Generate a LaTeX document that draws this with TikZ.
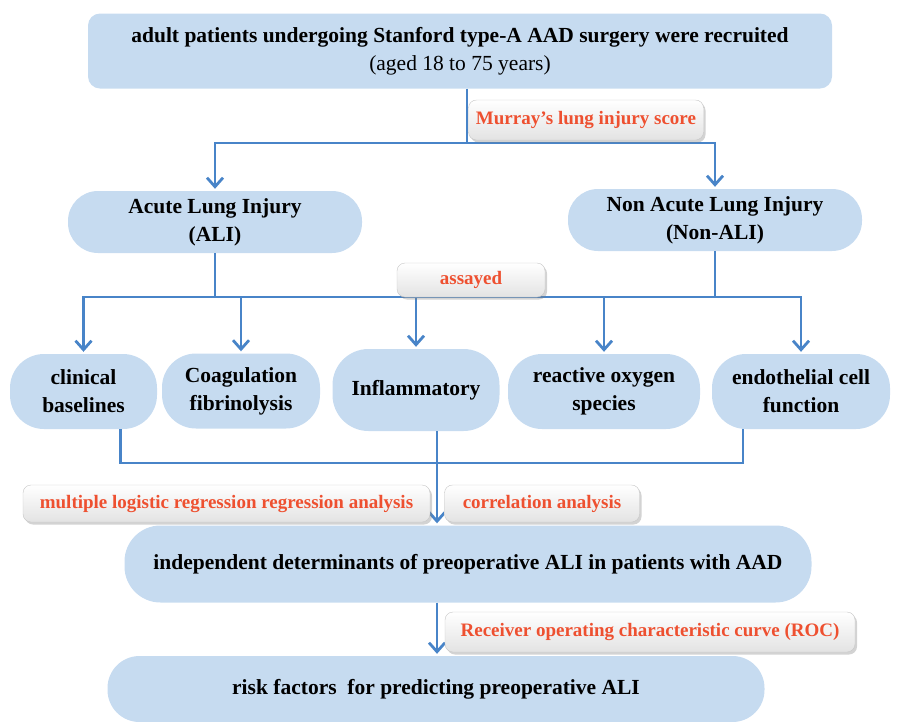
\documentclass[tikz,border=0pt]{standalone}
\usepackage{fontspec}
\setmainfont{Liberation Serif}
\usetikzlibrary{arrows.meta, positioning, shadows}
\usepackage{xcolor}
\definecolor{boxblue}{RGB}{198,219,240}
\definecolor{linkblue}{RGB}{72,132,200}
\definecolor{tagred}{RGB}{238,80,48}

\begin{document}
\begin{tikzpicture}[
  x=1pt, y=-1pt,
  box/.style={fill=boxblue, rounded corners=30pt, align=center, inner sep=0pt,
              font=\bfseries\fontsize{21.5}{28}\selectfont},
  tag/.style={draw=gray!45, rounded corners=8pt, top color=white, bottom color=gray!22,
              drop shadow={shadow xshift=2pt, shadow yshift=-2.5pt, opacity=0.35},
              text=tagred, inner sep=0pt, font=\bfseries\fontsize{19}{22}\selectfont},
  link/.style={draw=linkblue, line width=2.8pt},
  arr/.style={link, shorten >=2pt, -{Straight Barb[length=9pt, width=16pt]}}
]
\useasboundingbox (0,0) rectangle (897,721);

\node[box, rounded corners=12pt, minimum width=744pt, minimum height=75pt] (top) at (460,51)
  {adult patients undergoing Stanford type-A AAD surgery were recruited \\
   \mdseries (aged 18 to 75 years)};

\node[box, minimum width=294pt, minimum height=62pt] (ali) at (215,222)
  {Acute Lung Injury \\ (ALI)};
\node[box, minimum width=294pt, minimum height=62pt] (nonali) at (715,220)
  {Non Acute Lung Injury \\ (Non-ALI)};

\node[box, rounded corners=34pt, minimum width=147pt, minimum height=75pt] (clin) at (83.5,391.5)
  {clinical \\ baselines};
\node[box, rounded corners=34pt, minimum width=158pt, minimum height=75pt] (coag) at (241,391)
  {Coagulation \\ fibrinolysis};
\node[box, rounded corners=36pt, minimum width=167pt, minimum height=82pt] (inflam) at (416,390)
  {Inflammatory};
\node[box, rounded corners=34pt, minimum width=192pt, minimum height=75pt] (react) at (604,391.5)
  {reactive oxygen \\ species};
\node[box, rounded corners=34pt, minimum width=178pt, minimum height=75pt] (endo) at (801,391.5)
  {endothelial cell \\ function};

\node[box, rounded corners=36pt, minimum width=687pt, minimum height=77pt] (indep) at (468,564)
  {independent determinants of preoperative ALI in patients with AAD};
\node[box, rounded corners=32pt, minimum width=657pt, minimum height=66pt] (risk) at (436,689)
  {risk factors\ \ for predicting preoperative ALI};

\coordinate (split) at (467,143);
\coordinate (bus) at (471,297);
\coordinate (join) at (437,463);

\draw[link] (top.south -| split) -- (split);
\draw[arr] (split) -| (ali);
\draw[arr] (split) -| (nonali);
\draw[link] (ali) -- (ali |- bus);
\draw[link] (nonali) -- (nonali |- bus);
\foreach \n in {clin, coag, inflam, react, endo}
  \draw[arr] (bus) -| (\n);
\draw[link] ([xshift=37pt]clin.south) |- (join) -| ([xshift=-58pt]endo.south);
\draw[arr] (inflam.south -| join) -- (indep.north -| join);
\draw[arr] (indep.south -| join) -- (risk.north -| join);

\node[tag, minimum width=235pt, minimum height=40pt] (murray) at (586,120)
  {Murray's lung injury score};
\node[tag, minimum width=148pt, minimum height=34pt] (assayed) at (471,280)
  {assayed};
\node[tag, minimum width=407pt, minimum height=37pt] (logit) at (226.5,503.5)
  {multiple logistic regression regression analysis};
\node[tag, minimum width=195pt, minimum height=37pt] (corr) at (542,503.5)
  {correlation analysis};
\node[tag, minimum width=410pt, minimum height=40pt] (roc) at (650,632)
  {Receiver operating characteristic curve (ROC)};
\end{tikzpicture}
\end{document}
